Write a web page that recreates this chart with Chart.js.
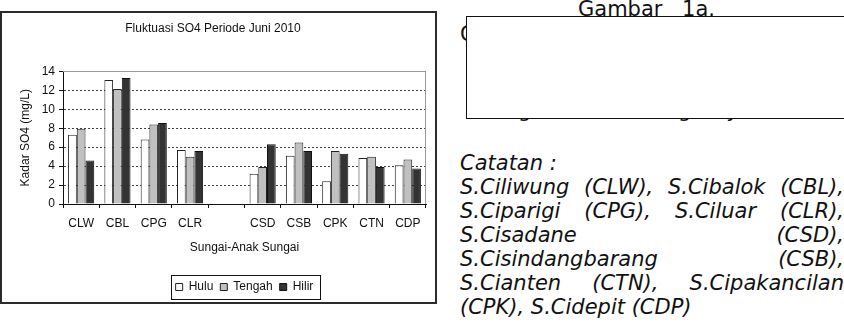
<!DOCTYPE html>
<html>
<head>
<meta charset="utf-8">
<script src="https://cdn.jsdelivr.net/npm/chart.js@4/dist/chart.umd.min.js"></script>
<style>
html,body{margin:0;padding:0;background:#fff;width:844px;height:328px;overflow:hidden;position:relative}
#c{position:absolute;left:0;top:0}
#frame{position:absolute;left:0;top:11px;width:437px;height:293px;border:2px solid #2b2b2b;box-sizing:border-box;pointer-events:none}
.t{position:absolute;font-family:"DejaVu Sans",sans-serif;font-size:21px;line-height:24px;color:#111;white-space:nowrap}
.j{width:384px;text-align:justify;text-align-last:justify;white-space:nowrap}
.i{font-style:italic}
#cover{position:absolute;left:466px;top:16px;width:400px;height:103px;background:#fff;border:1.5px solid #111;box-sizing:border-box}
</style>
</head>
<body>
<canvas id="c" width="440" height="320"></canvas>
<div id="frame"></div>

<div class="t" style="left:578px;top:-3px;word-spacing:13px">Gambar 1a.</div>
<div class="t j" style="left:460px;top:22px">Grafik Fluktuasi SO4 Periode Juni</div>
<div class="t j" style="left:472px;top:47px;width:372px">pada Sungai dan Anak Sungai di</div>
<div class="t j" style="left:472px;top:72px;width:372px">DAS Ciliwung dan DAS Cisadane</div>
<div class="t j" style="left:478px;top:98px;width:301px">Sungai, anak sungai yaitu</div>
<div id="cover"></div>

<div class="t i" style="left:460px;top:151px">Catatan :</div>
<div class="t i j" style="left:460px;top:175px">S.Ciliwung (CLW), S.Cibalok (CBL),</div>
<div class="t i j" style="left:460px;top:199px">S.Ciparigi (CPG), S.Ciluar (CLR),</div>
<div class="t i j" style="left:460px;top:223px">S.Cisadane (CSD),</div>
<div class="t i j" style="left:460px;top:247px">S.Cisindangbarang (CSB),</div>
<div class="t i j" style="left:460px;top:271px">S.Cianten (CTN), S.Cipakancilan</div>
<div class="t i" style="left:460px;top:295px">(CPK), S.Cidepit (CDP)</div>

<script>
const categories = ['CLW','CBL','CPG','CLR','','CSD','CSB','CPK','CTN','CDP'];
const seriesNames = ['Hulu','Tengah','Hilir'];
const hulu   = [7.3, 13.1, 6.8, 5.7, null, 3.2, 5.1, 2.4, 4.85, 4.1];
const tengah = [7.95, 12.15, 8.4, 5.0, null, 3.9, 6.5, 5.6, 5.0, 4.7];
const hilir  = [4.6, 13.3, 8.55, 5.6, null, 6.3, 5.6, 5.3, 3.9, 3.75];
const yTicks = [0, 2, 4, 6, 8, 10, 12, 14];

const F = '"Liberation Sans", Arial, sans-serif';
const font = {family: F, size: 12, weight: 'normal'};
const ink = '#111';

const framePlugin = {
  id: 'frame',
  afterLayout(chart) {
    const lg = chart.legend, ca = chart.chartArea;
    if (!lg || !ca) return;
    const d = (ca.left + ca.right) / 2 - (lg.left + lg.right) / 2;
    lg.left += d; lg.right += d;
  },
  afterDraw(chart) {
    const ctx = chart.ctx, ca = chart.chartArea;
    ctx.save();
    ctx.strokeStyle = '#9a9a9a';
    ctx.lineWidth = 1;
    ctx.beginPath();
    ctx.moveTo(ca.left, Math.round(ca.top) + 0.5);
    ctx.lineTo(Math.round(ca.right) - 0.5, Math.round(ca.top) + 0.5);
    ctx.lineTo(Math.round(ca.right) - 0.5, ca.bottom);
    ctx.stroke();
    const hb = chart.legend.legendHitBoxes;
    if (hb && hb.length) {
      let l = Infinity, r = -Infinity, t = Infinity, b = -Infinity;
      hb.forEach(h => { l = Math.min(l, h.left); r = Math.max(r, h.left + h.width); t = Math.min(t, h.top); b = Math.max(b, h.top + h.height); });
      ctx.strokeStyle = '#111';
      ctx.strokeRect(Math.round(l - 5) + 0.5, Math.round(t - 6) + 0.5, Math.round(r - l + 11), Math.round(b - t + 12));
    }
    ctx.restore();
  }
};

new Chart(document.getElementById('c'), {
  type: 'bar',
  data: {
    labels: categories,
    datasets: [
      {label: seriesNames[0], data: hulu, backgroundColor: '#ffffff', borderColor: '#222', borderWidth: 1},
      {label: seriesNames[1], data: tengah, backgroundColor: '#c0c0c0', borderColor: '#222', borderWidth: 1},
      {label: seriesNames[2], data: hilir, backgroundColor: '#333333', borderColor: '#111', borderWidth: 1}
    ]
  },
  options: {
    responsive: false,
    animation: false,
    devicePixelRatio: 1,
    categoryPercentage: 0.72,
    barPercentage: 1,
    layout: {padding: {left: 0, right: 14, top: 0, bottom: 17}},
    plugins: {
      title: {display: true, text: 'Fluktuasi SO4 Periode Juni 2010', color: ink, font: font, padding: {top: 21, bottom: 36}},
      legend: {position: 'bottom', labels: {boxWidth: 7, boxHeight: 7, padding: 7, color: ink, font: font}},
      tooltip: {enabled: false}
    },
    scales: {
      x: {
        grid: {display: true, drawOnChartArea: false, offset: true, tickLength: 4, color: ink},
        border: {color: ink, width: 1},
        ticks: {color: ink, font: font, padding: 8, maxRotation: 0, autoSkip: false},
        title: {display: true, text: 'Sungai-Anak Sungai', color: ink, font: font, padding: {top: 0, bottom: 19}},
        afterFit(s) { s.height = 70; }
      },
      y: {
        min: 0, max: 14,
        afterBuildTicks(s) { s.ticks = yTicks.map(v => ({value: v})); },
        ticks: {color: ink, font: font, padding: 4},
        grid: {color: '#444', tickLength: 4, tickColor: ink, tickBorderDash: []},
        border: {color: ink, width: 1, dash: [2, 2]},
        title: {display: true, text: 'Kadar SO4 (mg/L)', color: ink, font: font, padding: {top: 18, bottom: 0}},
        afterFit(s) { s.width = 63; }
      }
    }
  },
  plugins: [framePlugin]
});
</script>
</body>
</html>
